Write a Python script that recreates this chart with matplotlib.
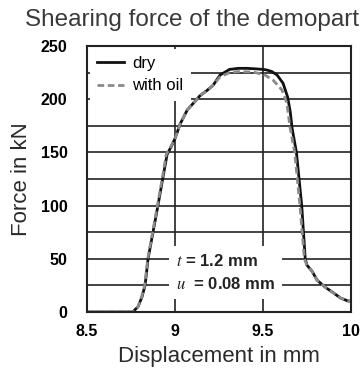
import matplotlib
matplotlib.use("Agg")
import matplotlib.pyplot as plt

plt.rcParams['font.family'] = ['Liberation Sans', 'DejaVu Sans']
plt.rcParams['mathtext.fontset'] = 'stix'

# Data
dry_x = [8.5, 8.6, 8.7, 8.76, 8.79, 8.812, 8.83, 8.847, 8.875, 8.903, 8.93, 8.955,
         8.98, 9.0, 9.03, 9.07, 9.125, 9.14, 9.18, 9.216, 9.256, 9.31, 9.36, 9.41,
         9.46, 9.5, 9.52, 9.55, 9.58, 9.614, 9.64, 9.655, 9.665, 9.69, 9.72, 9.74,
         9.75, 9.78, 9.807, 9.852, 9.9, 9.94, 9.983, 10.0]
dry_y = [0, 0, 0, 0, 5, 14, 25, 50, 75, 100, 125, 148,
         156, 163, 177, 190, 200, 203, 208, 213, 222.7, 228, 229, 229,
         228.5, 228, 227.5, 226, 222.7, 215, 202, 188, 173, 150, 100, 50,
         44, 38, 30, 23.5, 18, 13.2, 10.3, 10.3]
oil_x = [8.5, 8.6, 8.7, 8.76, 8.79, 8.81, 8.828, 8.845, 8.873, 8.9, 8.927, 8.95,
         8.978, 9.0, 9.03, 9.07, 9.125, 9.14, 9.18, 9.216, 9.256, 9.31, 9.36, 9.443,
         9.511, 9.557, 9.608, 9.636, 9.653, 9.68, 9.71, 9.735,
         9.75, 9.78, 9.807, 9.852, 9.9, 9.94, 9.983, 10.0]
oil_y = [0, 0, 0, 0, 5, 14, 25, 50, 75, 100, 125, 148,
         156, 163, 177, 190, 200, 203, 208, 213, 221, 225, 226, 225.6,
         222.7, 218, 208.6, 196, 174, 150, 100, 50,
         44, 38, 30, 23.5, 18, 13.2, 10.3, 10.3]

x_ticks = [8.5, 9, 9.5, 10]
x_ticklabels = ['8.5', '9', '9.5', '10']
y_ticks = [0, 50, 100, 150, 200, 250]
y_grid = [0, 25, 50, 75, 100, 125, 150, 175, 200, 225, 250]

fig = plt.figure(figsize=(3.64, 3.71), dpi=100)
ax = fig.add_axes([87/364, 1 - 312/371, (351-87)/364, (312-46)/371])

for g in y_grid:
    ax.axhline(g, color='#222222', lw=1.2, zorder=1)
for g in [9, 9.5]:
    ax.axvline(g, color='#222222', lw=1.2, zorder=1)

ax.plot(dry_x, dry_y, color='#111111', lw=2.0, zorder=4, label='dry')
ax.plot(oil_x, oil_y, color='#8a8a8a', lw=2.0, ls=(0, (2.4, 1.3)), zorder=5, label='with oil')

ax.set_xlim(8.5, 10)
ax.set_ylim(0, 250)
ax.set_xticks(x_ticks)
ax.set_xticklabels(x_ticklabels, fontweight='bold', fontsize=11.5)
ax.set_yticks(y_ticks)
ax.set_yticklabels([str(v) for v in y_ticks], fontweight='bold', fontsize=11.5)
ax.tick_params(axis='y', length=0, pad=14)
ax.tick_params(axis='x', length=0, pad=9)
for s in ax.spines.values():
    s.set_linewidth(1.5)
    s.set_color('#222222')
    s.set_zorder(6)

leg = ax.legend(loc='upper left', frameon=True, fancybox=False, framealpha=1,
                edgecolor='white', facecolor='white', fontsize=12,
                handlelength=1.6, borderpad=0.45, labelspacing=0.45,
                handletextpad=0.5, borderaxespad=0.15)
leg.set_zorder(7)
leg.get_frame().set_linewidth(0)

ax.text(9.003, 37.5, '$t$ = 1.2 mm\n$u$  = 0.08 mm', fontsize=12, fontweight='bold',
        va='center', ha='left', linespacing=1.55, zorder=8, color='#222222',
        bbox=dict(facecolor='white', edgecolor='none', pad=5))

fig.text(192/364, 1 - 20/371, 'Shearing force of the demopart', ha='center', va='center',
         fontsize=17.5, color='#3a3a3a')
ax.set_xlabel('Displacement in mm', fontsize=16, color='#2a2a2a', labelpad=5)
ax.set_ylabel('Force in kN', fontsize=16, color='#2a2a2a', labelpad=6)

fig.savefig('out.png', dpi=100)
